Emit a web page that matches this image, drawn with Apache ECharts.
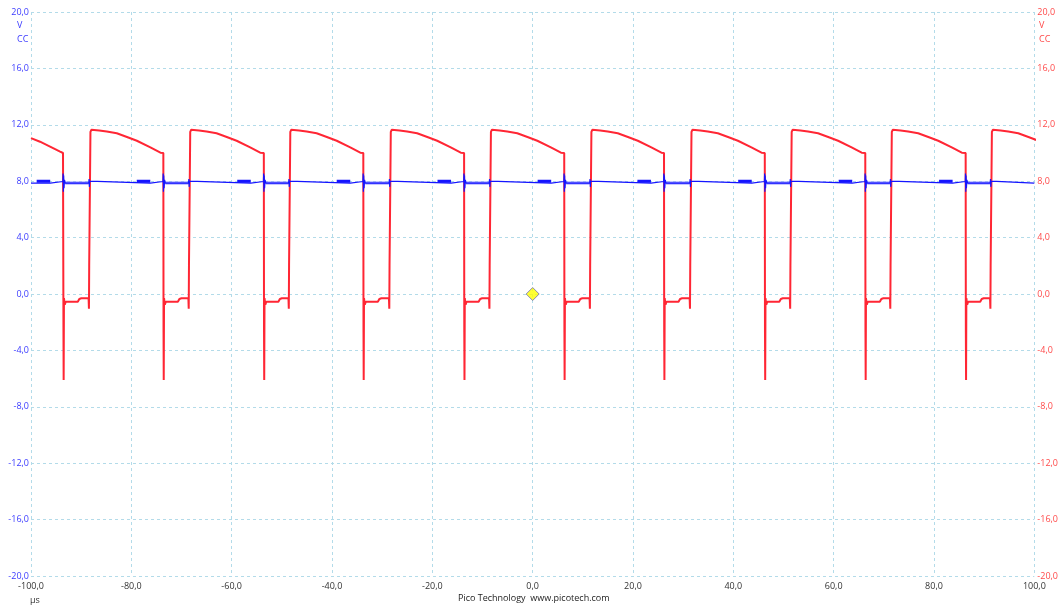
<!DOCTYPE html>
<html>
<head>
<meta charset="utf-8">
<script src="https://cdn.jsdelivr.net/npm/echarts@6/dist/echarts.min.js"></script>
<style>
  html, body { margin: 0; padding: 0; background: #ffffff; }
  #chart { width: 1061px; height: 607px; }
</style>
</head>
<body>
<div id="chart"></div>
<script>
// Channel B (red): edge times in µs
const fallTimes = [-93.57, -73.62, -53.59, -33.76, -13.67, 6.29, 26.18, 46.27, 66.30, 86.31];
const riseTimes = [-88.40, -68.51, -48.56, -28.53, -8.57, 11.46, 31.41, 51.38, 71.34, 91.29];

// red trace from the left edge down to the first falling edge (µs, V)
const redLead = [[-100, 11.06], [-98.2, 10.8], [-96.2, 10.45], [-94.2, 10.1], [-93.62, 10.0]];
// red shape after each falling edge, offsets from the edge (µs, V)
const redLow = [[0, 10.0], [0.04, -2.7], [0.08, -6.1], [0.14, -0.3], [0.3, -0.75], [0.5, -0.55],
                [2.9, -0.55], [3.2, -0.35], [3.6, -0.3]];
// red shape around each rising edge and the sagging top, offsets from the edge
const redHigh = [[-0.12, -0.3], [-0.05, -1.05], [0.0, 2.0], [0.25, 11.5], [0.45, 11.65], [2.0, 11.6],
                 [3.5, 11.52], [5.5, 11.4], [7.8, 11.1], [9.5, 10.87], [12.2, 10.4], [14.2, 10.02]];

// Channel A (blue): resting level and the disturbances at each red edge
const blueLevel = 7.87;
const blueAtFall = [[-2.6, 7.87], [-2.5, 7.98], [-0.08, 7.98], [-0.03, 8.55], [0.02, 7.25], [0.08, 8.4],
                    [0.15, 7.5], [0.25, 8.1], [0.4, 7.87]];
const blueAtRise = [[-0.1, 7.87], [-0.02, 8.15], [0.03, 7.6], [0.1, 8.0], [0.2, 7.87]];
// short raised stretch before each falling edge (offsets from the edge, V)
const blueRaised = [[-5.3, 8.0], [-2.6, 8.0]];

// trigger marker
const triggerPoint = [[0, 0]];

const xMin = -100, xMax = 100, xStep = 20;
const yMin = -20, yMax = 20, yStep = 4;

function fmt(v) { return v.toFixed(1).replace('.', ','); }

// assemble the red trace
const red = redLead.slice();
fallTimes.forEach((f, i) => {
  const r = riseTimes[i];
  const nextFall = i + 1 < fallTimes.length ? fallTimes[i + 1] : Infinity;
  redLow.forEach(p => { if (f + p[0] < r - 0.12) red.push([f + p[0], p[1]]); });
  redHigh.forEach(p => { if (r + p[0] < nextFall - 0.05) red.push([r + p[0], p[1]]); });
});

// assemble the blue trace
const blue = [[xMin, blueLevel]];
fallTimes.forEach((f, i) => {
  blueAtFall.forEach(p => blue.push([f + p[0], p[1]]));
  blueAtRise.forEach(p => blue.push([riseTimes[i] + p[0], p[1]]));
});
blue.push([xMax, blueLevel]);

// raised stretches and the noisy band while red sits low
const blueThick = [];
const blueBand = [];
fallTimes.forEach((f, i) => {
  blueRaised.forEach(p => blueThick.push([Math.max(xMin, f + p[0]), p[1]]));
  blueThick.push([f, null]);
  blueBand.push([f + 0.4, blueLevel], [riseTimes[i] - 0.1, blueLevel], [riseTimes[i], null]);
});

const gridColor = '#b3dbe9';
const font = 'Open Sans';

const chart = echarts.init(document.getElementById('chart'), null, { renderer: 'canvas' });
chart.setOption({
  animation: false,
  backgroundColor: '#ffffff',
  grid: { left: 31, right: 25, top: 12, bottom: 31, containLabel: false },
  xAxis: {
    type: 'value', min: xMin, max: xMax, interval: xStep,
    axisLine: { show: false }, axisTick: { show: false },
    axisLabel: { formatter: fmt, color: '#333333', fontFamily: font, fontSize: 9, margin: 6, showMinLabel: true, showMaxLabel: true },
    splitLine: { show: true, showMinLine: true, showMaxLine: true, lineStyle: { color: gridColor, type: [3, 3], width: 1 } }
  },
  yAxis: [
    {
      type: 'value', min: yMin, max: yMax, interval: yStep, position: 'left',
      axisLine: { show: false }, axisTick: { show: false },
      axisLabel: { formatter: fmt, color: '#3b3bff', fontFamily: font, fontSize: 9, margin: 2 },
      splitLine: { show: true, showMinLine: true, showMaxLine: true, lineStyle: { color: gridColor, type: [3, 3], width: 1 } }
    },
    {
      type: 'value', min: yMin, max: yMax, interval: yStep, position: 'right',
      axisLine: { show: false }, axisTick: { show: false },
      axisLabel: { formatter: fmt, color: '#ff4a4a', fontFamily: font, fontSize: 9, margin: 3 },
      splitLine: { show: false }
    }
  ],
  graphic: [
    { type: 'text', left: 17, top: 21, style: { text: 'V', fill: '#3b3bff', font: '9px "Open Sans"' } },
    { type: 'text', left: 17, top: 35, style: { text: 'CC', fill: '#3b3bff', font: '9px "Open Sans"' } },
    { type: 'text', left: 1039, top: 21, style: { text: 'V', fill: '#ff4a4a', font: '9px "Open Sans"' } },
    { type: 'text', left: 1039, top: 35, style: { text: 'CC', fill: '#ff4a4a', font: '9px "Open Sans"' } },
    { type: 'text', left: 30, top: 596, style: { text: 'µs', fill: '#333333', font: '9px "Open Sans"' } },
    { type: 'text', left: 458, top: 594, style: { text: 'Pico Technology  www.picotech.com', fill: '#222222', font: '9px "Open Sans"' } }
  ],
  series: [
    {
      type: 'line', yAxisIndex: 1, data: blueBand, showSymbol: false, clip: true,
      lineStyle: { color: '#8c8cff', width: 3 }, z: 2, connectNulls: false
    },
    {
      type: 'line', yAxisIndex: 1, data: red, showSymbol: false, clip: true,
      lineStyle: { color: '#ff2634', width: 2 }, z: 3
    },
    {
      type: 'line', yAxisIndex: 0, data: blue, showSymbol: false, clip: true,
      lineStyle: { color: '#1414ff', width: 1.2 }, z: 4
    },
    {
      type: 'line', yAxisIndex: 0, data: blueThick, showSymbol: false, clip: true, connectNulls: false,
      lineStyle: { color: '#1414ff', width: 3 }, z: 4
    },
    {
      type: 'scatter', data: triggerPoint, symbol: 'diamond', symbolSize: [13, 13],
      itemStyle: { color: '#ffff00', borderColor: '#6f6fb0', borderWidth: 1 }, z: 6
    }
  ]
});
</script>
</body>
</html>
